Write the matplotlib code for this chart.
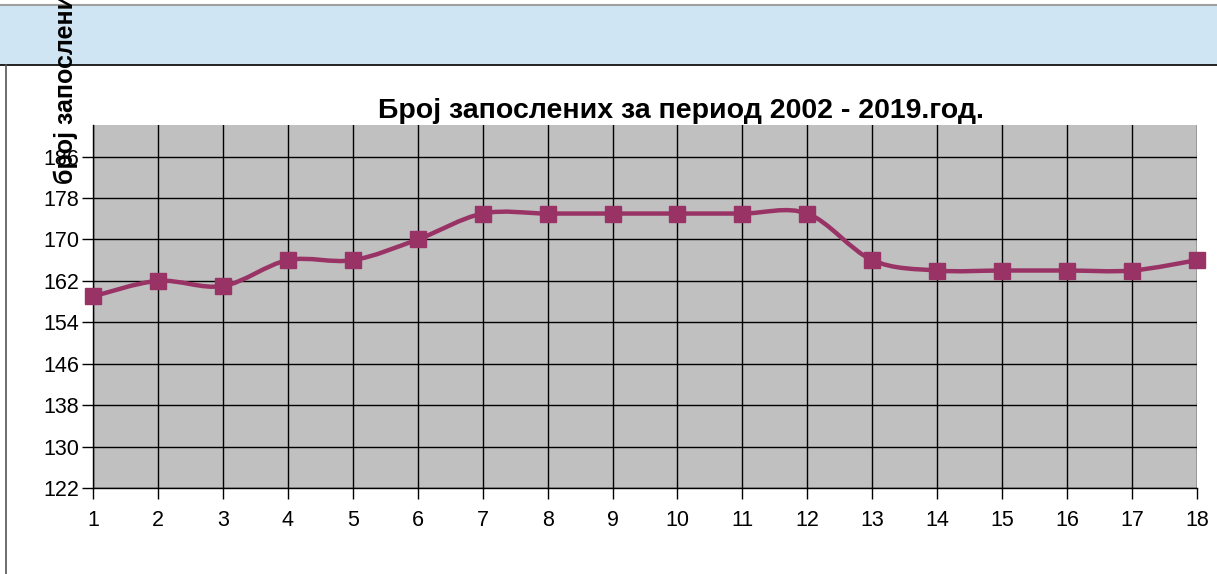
import numpy as np
import matplotlib.pyplot as plt
from matplotlib.path import Path
from matplotlib.patches import PathPatch, Rectangle
from matplotlib.lines import Line2D

plt.rcParams['font.family'] = ['Liberation Sans', 'DejaVu Sans']

# data
periods = list(range(1, 19))
employees = [159, 162, 161, 166, 166, 170, 175, 175, 175, 175, 175, 175,
             166, 164, 164, 164, 164, 166]
y_ticks = [122, 130, 138, 146, 154, 162, 170, 178, 186]
title = 'Број запослених за период 2002 - 2019.год.'
y_label = 'број запослених'

line_color = '#993366'

fig = plt.figure(figsize=(12.17, 5.74), dpi=100)
W, H = 1217, 574

# header band and frame lines
fig.add_artist(Rectangle((0, 1 - 65 / H), 1, 60 / H, transform=fig.transFigure,
                         facecolor='#cfe5f3', edgecolor='none'))
fig.add_artist(Line2D([0, 1], [1 - 5 / H] * 2, transform=fig.transFigure,
                      color='#a0a0a0', lw=1.5))
fig.add_artist(Line2D([0, 1], [1 - 65 / H] * 2, transform=fig.transFigure,
                      color='black', lw=1.2))
fig.add_artist(Line2D([6 / W] * 2, [0, 1 - 65 / H], transform=fig.transFigure,
                      color='#555555', lw=1.2))

ax = fig.add_axes([93 / W, 1 - 488 / H, (1197 - 93) / W, (488 - 125) / H])
ax.set_facecolor('#c0c0c0')
ax.set_xlim(1, 18)
ax.set_ylim(122, 192.1)
ax.set_xticks(periods)
ax.set_yticks(y_ticks)
ax.grid(True, color='black', lw=1.0)
ax.set_axisbelow(True)
for s in ['top', 'right']:
    ax.spines[s].set_visible(False)
for s in ['left', 'bottom']:
    ax.spines[s].set_color('black')
    ax.spines[s].set_linewidth(1.0)
ax.tick_params(axis='both', length=8, width=1.0, labelsize=15.5, color='black')
ax.tick_params(axis='x', pad=8)
ax.tick_params(axis='y', pad=2)

# smoothed line (bezier through the points, like a spreadsheet "smoothed line")
x = np.array(periods, dtype=float)
y = np.array(employees, dtype=float)
pts = np.column_stack([x, y])
ext = np.vstack([pts[0], pts, pts[-1]])
verts = [tuple(pts[0])]
codes = [Path.MOVETO]
for i in range(len(pts) - 1):
    p0, p1, p2, p3 = ext[i], ext[i + 1], ext[i + 2], ext[i + 3]
    c1 = p1 + (p2 - p0) / 6
    c2 = p2 - (p3 - p1) / 6
    verts += [tuple(c1), tuple(c2), tuple(p2)]
    codes += [Path.CURVE4] * 3
ax.add_patch(PathPatch(Path(verts, codes), facecolor='none', edgecolor=line_color,
                       lw=3.2, zorder=3, clip_on=False))
ax.plot(x, y, ls='none', marker='s', ms=11, color=line_color, zorder=4, clip_on=False)

fig.text(681 / W, 1 - 111 / H, title, ha='center', va='center',
         fontsize=20.5, fontweight='bold')
fig.text(66 / W, 1 - 184 / H, y_label, rotation=90, rotation_mode='anchor',
         ha='left', va='center', fontsize=18, fontweight='bold')

fig.savefig('out.png', dpi=100)
